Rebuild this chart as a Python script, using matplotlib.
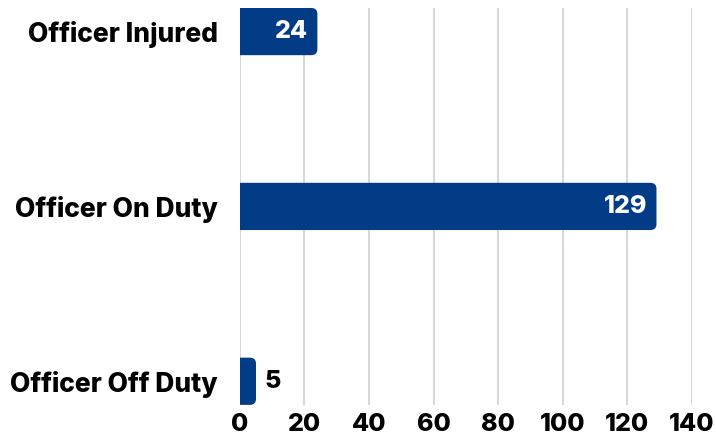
import matplotlib
matplotlib.use('Agg')
import matplotlib.pyplot as plt
from matplotlib.patches import FancyBboxPatch

plt.rcParams['font.family'] = ['Inter', 'DejaVu Sans']

categories = ['Officer Injured', 'Officer On Duty', 'Officer Off Duty']
values = [24, 129, 5]
xticks = [0, 20, 40, 60, 80, 100, 120, 140]

bar_color = '#023c87'
bar_h = 0.27
fw = 'heavy'
fs = 18

fig = plt.figure(figsize=(7.16, 4.42), dpi=100)
ax = fig.add_axes([0.335, 0.084, 0.6315, 0.898])

ypos = list(range(len(categories)))
bars = ax.barh(ypos, values, height=bar_h, color='none')

# rounded right ends; left end starts below 0 and is clipped by the axes
r = 1.9
for b, v in zip(bars, values):
    y0 = b.get_y()
    patch = FancyBboxPatch((-5, y0), v + 5, bar_h,
                           boxstyle='round,pad=0,rounding_size=%f' % r,
                           mutation_aspect=0.018,
                           facecolor=bar_color, edgecolor='none', zorder=3)
    ax.add_patch(patch)

for y, v in zip(ypos, values):
    if v > 15:
        ax.text(v - 2.8, y, str(v), ha='right', va='center', color='white',
                fontsize=fs, fontweight=fw, zorder=4)
    else:
        ax.text(v + 2.5, y, str(v), ha='left', va='center', color='black',
                fontsize=fs, fontweight=fw, zorder=4)

ax.set_xlim(0, 140)
ax.set_ylim(2 + bar_h / 2, -bar_h / 2)
ax.set_xticks(xticks)
ax.set_yticks(ypos)
ax.set_yticklabels(categories)
ax.xaxis.grid(True, color='#d3d3d3', linewidth=1.3, zorder=0)
ax.set_axisbelow(True)
for s in ax.spines.values():
    s.set_visible(False)
ax.tick_params(axis='both', length=0, labelsize=fs)
ax.tick_params(axis='y', pad=16, labelsize=19)
ax.tick_params(axis='x', pad=6)
for lab in ax.get_xticklabels() + ax.get_yticklabels():
    lab.set_fontweight(fw)

fig.savefig('out.png', dpi=100)
